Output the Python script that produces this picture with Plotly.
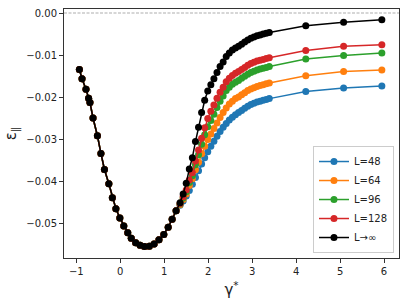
import plotly.graph_objects as go

# shared part (all L coincide on the descending branch and around the minimum)
gamma_common = [-0.93, -0.87, -0.78, -0.72, -0.69, -0.62, -0.52, -0.44, -0.36, -0.26,
                -0.18, -0.10, -0.01, 0.08, 0.17, 0.25, 0.35, 0.45, 0.55, 0.66,
                0.77, 0.88, 0.99, 1.09, 1.18, 1.27]
eps_common = [-0.0134, -0.0156, -0.0181, -0.0202, -0.0212, -0.0249, -0.0291, -0.0333, -0.0371, -0.0405,
              -0.0438, -0.0464, -0.0486, -0.0505, -0.0521, -0.0534, -0.0545, -0.0551, -0.0554, -0.0553,
              -0.0548, -0.0538, -0.0525, -0.0508, -0.0489, -0.0469]

gamma_tail = [1.36, 1.43, 1.50, 1.57, 1.64, 1.71, 1.78, 1.85, 1.92, 1.99,
              2.06, 2.13, 2.20, 2.27, 2.34, 2.41, 2.48, 2.55, 2.62, 2.69,
              2.76, 2.83, 2.90, 2.97, 3.04, 3.11, 3.18, 3.25, 3.32, 3.39,
              4.22, 5.08, 5.95]

eps_L48 = [-0.0456, -0.0446, -0.0434, -0.0421, -0.0406, -0.0390, -0.0374, -0.0358, -0.0343, -0.0329,
           -0.0316, -0.0304, -0.0292, -0.0281, -0.0271, -0.0262, -0.0254, -0.0247, -0.0241, -0.0236,
           -0.0231, -0.0226, -0.0221, -0.0217, -0.0214, -0.0211, -0.0209, -0.0207, -0.0205, -0.0203,
           -0.0186, -0.0178, -0.0173]
eps_L64 = [-0.0455, -0.0442, -0.0429, -0.0409, -0.0393, -0.0372, -0.0354, -0.0334, -0.0316, -0.0300,
           -0.0287, -0.0274, -0.0261, -0.0248, -0.0236, -0.0225, -0.0216, -0.0209, -0.0203, -0.0199,
           -0.0194, -0.0189, -0.0184, -0.0180, -0.0177, -0.0174, -0.0172, -0.0170, -0.0168, -0.0166,
           -0.0149, -0.0139, -0.0135]
eps_L96 = [-0.0453, -0.0439, -0.0424, -0.0402, -0.0386, -0.0360, -0.0336, -0.0311, -0.0289, -0.0270,
           -0.0255, -0.0240, -0.0224, -0.0209, -0.0197, -0.0184, -0.0176, -0.0169, -0.0164, -0.0160,
           -0.0155, -0.0150, -0.0145, -0.0141, -0.0138, -0.0135, -0.0133, -0.0131, -0.0129, -0.0127,
           -0.0109, -0.0101, -0.0095]
eps_L128 = [-0.0452, -0.0436, -0.0420, -0.0396, -0.0379, -0.0351, -0.0325, -0.0297, -0.0272, -0.0250,
            -0.0233, -0.0218, -0.0202, -0.0188, -0.0176, -0.0163, -0.0155, -0.0148, -0.0143, -0.0139,
            -0.0134, -0.0129, -0.0124, -0.0120, -0.0117, -0.0114, -0.0112, -0.0110, -0.0108, -0.0106,
            -0.0089, -0.0079, -0.0075]
eps_Linf = [-0.0450, -0.0429, -0.0404, -0.0370, -0.0343, -0.0305, -0.0271, -0.0236, -0.0207, -0.0185,
            -0.0170, -0.0156, -0.0141, -0.0127, -0.0116, -0.0103, -0.0095, -0.0088, -0.0083, -0.0079,
            -0.0074, -0.0069, -0.0064, -0.0060, -0.0057, -0.0054, -0.0052, -0.0050, -0.0048, -0.0046,
            -0.0030, -0.0022, -0.0016]

series_names = ["L=48", "L=64", "L=96", "L=128", "L→∞"]
series_tails = [eps_L48, eps_L64, eps_L96, eps_L128, eps_Linf]
series_colors = ["#1f77b4", "#ff7f0e", "#2ca02c", "#d62728", "#000000"]

x_ticks = [-1, 0, 1, 2, 3, 4, 5, 6]
y_ticks = [0.00, -0.01, -0.02, -0.03, -0.04, -0.05]

fig = go.Figure()
for name, tail, col in zip(series_names, series_tails, series_colors):
    fig.add_trace(go.Scatter(
        x=gamma_common + gamma_tail, y=eps_common + tail,
        mode="lines+markers", name=name,
        line=dict(color=col, width=1.5),
        marker=dict(color=col, size=7),
    ))

fig.add_hline(y=0, line=dict(color="#8a8a8a", width=0.7, dash="3px,1.5px"))

axis_common = dict(showline=True, linecolor="#333333", linewidth=1, mirror=True,
                   ticks="outside", ticklen=4, tickcolor="#333333", showgrid=False,
                   zeroline=False, automargin=False,
                   tickfont=dict(family="DejaVu Sans", size=10, color="#222222"))

fig.update_layout(
    width=409, height=306,
    margin=dict(l=64, r=10, t=9, b=48),
    paper_bgcolor="white", plot_bgcolor="white",
    font=dict(family="DejaVu Sans", color="#222222"),
    xaxis=dict(range=[-1.28, 6.34], tickvals=x_ticks,
               title=dict(text="γ<sup>*</sup>", font=dict(size=15), standoff=8),
               **axis_common),
    yaxis=dict(range=[-0.0581, 0.00095], tickvals=y_ticks, tickformat=".2f",
               title=dict(text="ε<sub>∥</sub>", font=dict(size=15), standoff=6),
               **axis_common),
    legend=dict(x=0.985, y=0.02, xanchor="right", yanchor="bottom",
                bgcolor="rgba(255,255,255,0.8)", bordercolor="#cccccc", borderwidth=1,
                font=dict(family="DejaVu Sans", size=10), tracegroupgap=0),
    showlegend=True,
)

fig.write_html("out.html", config={"displayModeBar": False},
               post_script="document.body.style.margin='0';")
